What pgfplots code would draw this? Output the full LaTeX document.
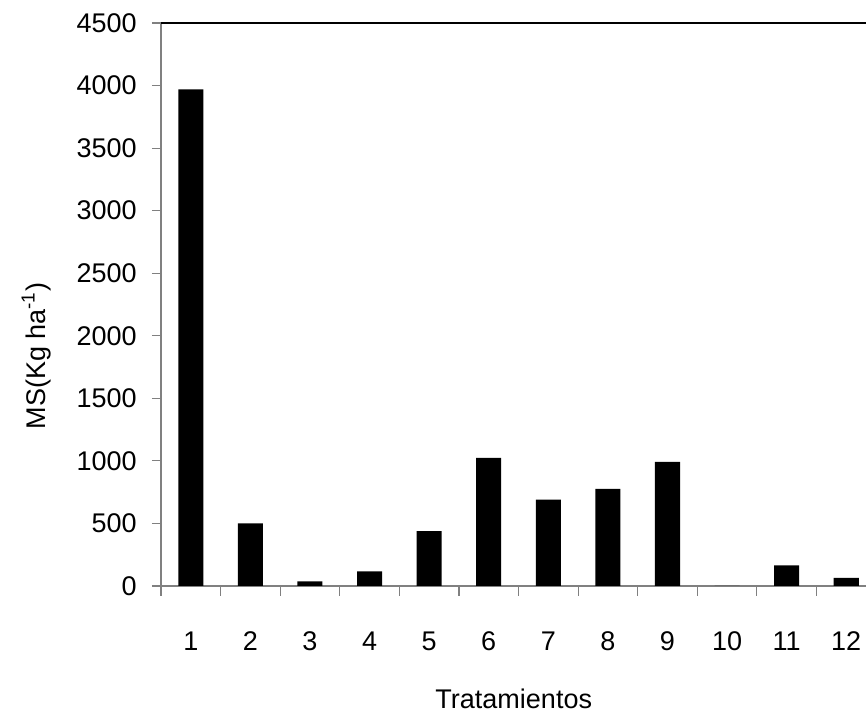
\documentclass[border=0pt]{standalone}
\usepackage{fontspec}
\setmainfont{Liberation Sans}
\usepackage{pgfplots}
\pgfplotsset{compat=1.18}

\newcommand{\lblfont}{\fontsize{13.5pt}{16pt}\selectfont}

\begin{document}
\begin{tikzpicture}
\begin{axis}[
    at={(0,0)}, anchor=south west,
    scale only axis,
    width=352.75pt, height=281.5pt,
    xmin=0.5, xmax=12.34,
    ymin=0, ymax=4500,
    ytick={0,500,...,4500},
    xtick={1,...,12},
    minor xtick={0.5,1.5,...,11.5},
    axis x line*=bottom,
    axis y line*=left,
    axis line style={gray, line width=0.7pt, -},
    tick align=outside,
    major tick length=4.5pt,
    minor tick length=5pt,
    major x tick style={draw=none},
    y tick style={gray, line width=0.6pt},
    minor x tick style={gray, line width=0.6pt},
    /pgf/number format/assume math mode=true,
    /pgf/number format/1000 sep={},
    ticklabel style={font=\lblfont},
    yticklabel style={anchor=east, inner sep=0pt, xshift=-7.5pt},
    xticklabel style={anchor=base, inner sep=0pt, yshift=-28pt},
    xlabel={Tratamientos},
    ylabel={MS(Kg ha\textsuperscript{-1})},
    label style={font=\lblfont},
    xlabel style={at={(axis description cs:0.5,-0.2167)}, anchor=base},
    ylabel style={at={(axis description cs:-0.1644,0.4085)}, anchor=base},
    ybar, bar width=0.42, bar shift=0pt,
    clip=false,
]
\addplot[fill=black, draw=none] coordinates {
    (1,3970) (2,500) (3,37) (4,117) (5,438) (6,1024)
    (7,690) (8,777) (9,992) (10,0) (11,164) (12,64)
};
\draw[black, line width=0.6pt] (rel axis cs:0,1) -- (rel axis cs:1,1);
\end{axis}
\pgfresetboundingbox
\useasboundingbox (-80.5pt,-64.5pt) rectangle (352.5pt,293pt);
\end{tikzpicture}
\end{document}
